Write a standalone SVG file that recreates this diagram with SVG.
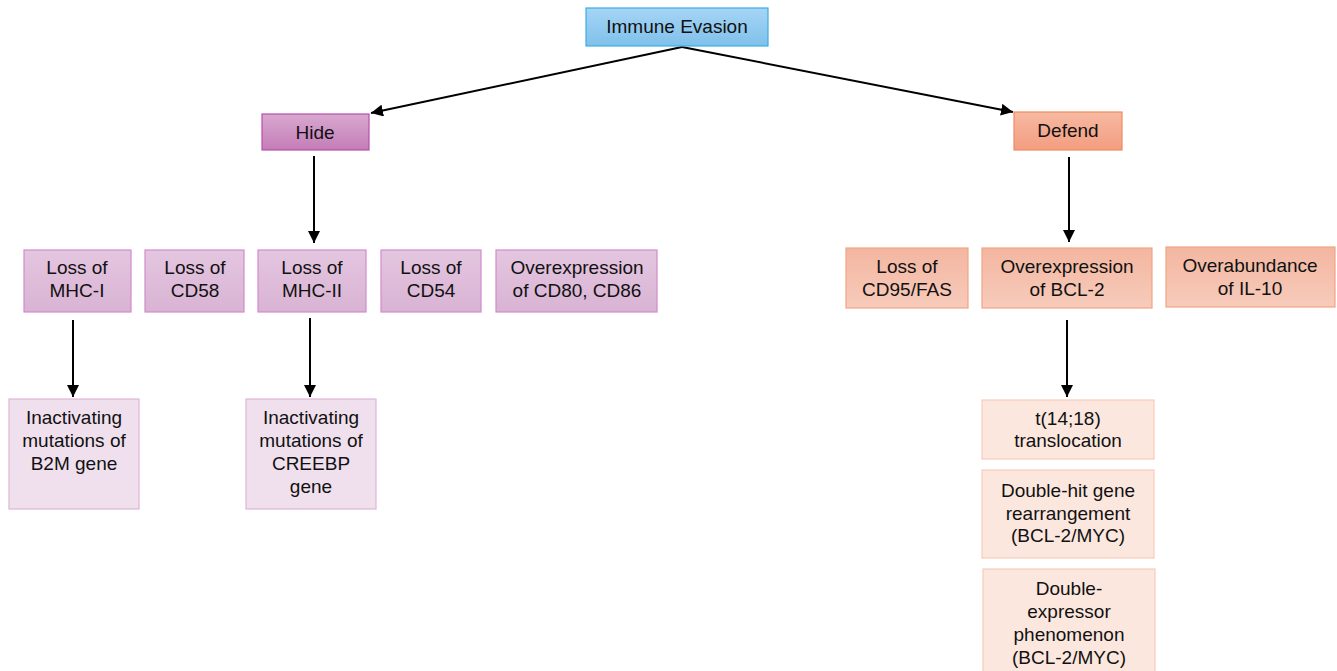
<svg xmlns="http://www.w3.org/2000/svg" width="1337" height="671" viewBox="0 0 1337 671">
<defs>
<linearGradient id="gBlue" x1="0" y1="0" x2="0" y2="1"><stop offset="0" stop-color="#a6d5f6"/><stop offset="1" stop-color="#7fc0ea"/></linearGradient>
<linearGradient id="gHide" x1="0" y1="0" x2="0" y2="1"><stop offset="0" stop-color="#d8a8cf"/><stop offset="1" stop-color="#c47db7"/></linearGradient>
<linearGradient id="gDef" x1="0" y1="0" x2="0" y2="1"><stop offset="0" stop-color="#f7b9a2"/><stop offset="1" stop-color="#f39d80"/></linearGradient>
<linearGradient id="gPur" x1="0" y1="0" x2="0" y2="1"><stop offset="0" stop-color="#e4c6e0"/><stop offset="1" stop-color="#d9b3d4"/></linearGradient>
<linearGradient id="gPea" x1="0" y1="0" x2="0" y2="1"><stop offset="0" stop-color="#f3b6a0"/><stop offset="1" stop-color="#f7cbbb"/></linearGradient>
<marker id="ah" viewBox="0 0 10 10" refX="10" refY="5" markerWidth="6" markerHeight="6" orient="auto" markerUnits="strokeWidth"><path d="M0,0 L10,5 L0,10 z" fill="#000"/></marker>
<style>
text{font-family:"Liberation Sans",Arial,sans-serif;font-size:19px;fill:#111;text-anchor:middle}
.top{fill:url(#gBlue);stroke:#3aaee2;stroke-width:1.2}
.hide{fill:url(#gHide);stroke:#b84dae;stroke-width:1.2}
.def{fill:url(#gDef);stroke:#ef8a62;stroke-width:1.2}
.pur{fill:url(#gPur);stroke:#d38bcb;stroke-width:1.2}
.pea{fill:url(#gPea);stroke:#f2a484;stroke-width:1.2}
.lpur{fill:#f0e0ee;stroke:#dcb5d7;stroke-width:1.2}
.lpea{fill:#fce7df;stroke:#f7ccb9;stroke-width:1.2}
.c line{stroke:#000;stroke-width:2;marker-end:url(#ah)}
</style>
</defs>
<rect width="1337" height="671" fill="#fff"/>
<g class="c" id="connectors">
<line x1="682" y1="47" x2="371" y2="113"/>
<line x1="682" y1="47" x2="1013" y2="112"/>
<line x1="314" y1="156" x2="314" y2="243"/>
<line x1="1069" y1="157" x2="1069" y2="242"/>
<line x1="73" y1="320" x2="73" y2="397"/>
<line x1="310" y1="318" x2="310" y2="397"/>
<line x1="1067" y1="320" x2="1067" y2="397"/>
</g>
<g id="n-immune"><rect class="top" x="586" y="8" width="182" height="38"/><text x="677" y="33">Immune Evasion</text></g>
<g id="n-hide"><rect class="hide" x="262" y="114" width="107" height="36"/><text x="315" y="139">Hide</text></g>
<g id="n-defend"><rect class="def" x="1014" y="112" width="108" height="38"/><text x="1068" y="137">Defend</text></g>
<g id="n-mhc1"><rect class="pur" x="24" y="250" width="107" height="62"/><text x="77" y="274">Loss of</text><text x="77" y="297">MHC-I</text></g>
<g id="n-cd58"><rect class="pur" x="145" y="250" width="99" height="62"/><text x="195" y="274">Loss of</text><text x="195" y="297">CD58</text></g>
<g id="n-mhc2"><rect class="pur" x="258" y="250" width="108" height="62"/><text x="312" y="274">Loss of</text><text x="312" y="297">MHC-II</text></g>
<g id="n-cd54"><rect class="pur" x="381" y="250" width="100" height="62"/><text x="431" y="274">Loss of</text><text x="431" y="297">CD54</text></g>
<g id="n-cd80"><rect class="pur" x="496" y="250" width="161" height="62"/><text x="577" y="274">Overexpression</text><text x="577" y="297">of CD80, CD86</text></g>
<g id="n-cd95"><rect class="pea" x="846" y="248" width="122" height="60"/><text x="907" y="273">Loss of</text><text x="907" y="296">CD95/FAS</text></g>
<g id="n-bcl2"><rect class="pea" x="982" y="248" width="170" height="60"/><text x="1067" y="273">Overexpression</text><text x="1067" y="296">of BCL-2</text></g>
<g id="n-il10"><rect class="pea" x="1166" y="247" width="169" height="60"/><text x="1250" y="272">Overabundance</text><text x="1250" y="295">of IL-10</text></g>
<g id="n-b2m"><rect class="lpur" x="9" y="399" width="130" height="110"/><text x="74" y="424">Inactivating</text><text x="74" y="447">mutations of</text><text x="74" y="470">B2M gene</text></g>
<g id="n-creebp"><rect class="lpur" x="246" y="399" width="130" height="110"/><text x="311" y="424">Inactivating</text><text x="311" y="447">mutations of</text><text x="311" y="470">CREEBP</text><text x="311" y="493">gene</text></g>
<g id="n-t1418"><rect class="lpea" x="982" y="400" width="172" height="59"/><text x="1068" y="425">t(14;18)</text><text x="1068" y="447">translocation</text></g>
<g id="n-dhit"><rect class="lpea" x="982" y="470" width="172" height="88"/><text x="1068" y="497">Double-hit gene</text><text x="1068" y="520">rearrangement</text><text x="1068" y="542">(BCL-2/MYC)</text></g>
<g id="n-dexp"><rect class="lpea" x="983" y="569" width="172" height="110"/><text x="1069" y="595">Double-</text><text x="1069" y="618">expressor</text><text x="1069" y="641">phenomenon</text><text x="1069" y="664">(BCL-2/MYC)</text></g>
</svg>
